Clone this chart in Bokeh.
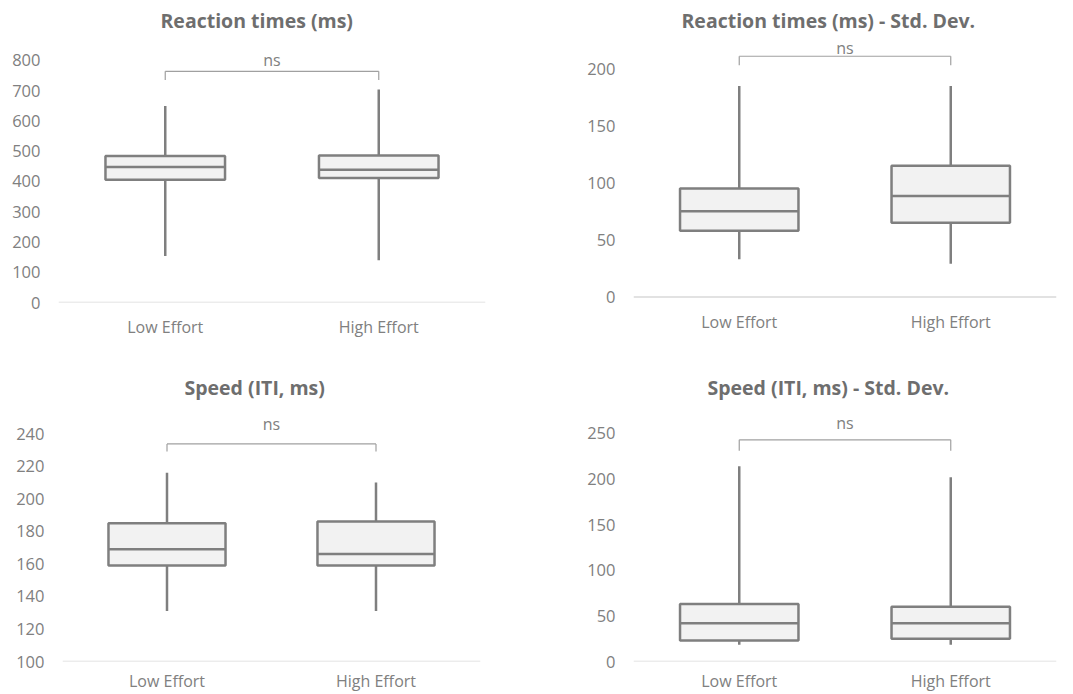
from bokeh.plotting import figure
from bokeh.models import FactorRange, Range1d, FixedTicker, Label, Span
from bokeh.layouts import column, row
from bokeh.embed import file_html
from bokeh.resources import INLINE

categories = ["Low Effort", "High Effort"]

# Reaction times (ms)
rt_min = [154, 140]
rt_q1 = [406, 411]
rt_med = [448, 439]
rt_q3 = [484, 486]
rt_max = [649, 704]

# Reaction times (ms) - Std. Dev.
rtsd_min = [33, 29]
rtsd_q1 = [58, 65]
rtsd_med = [75, 88.5]
rtsd_q3 = [95, 115]
rtsd_max = [185, 185]

# Speed (ITI, ms)
iti_min = [131, 131]
iti_q1 = [159, 159]
iti_med = [169, 166]
iti_q3 = [185, 186]
iti_max = [216, 210]

# Speed (ITI, ms) - Std. Dev.
itisd_min = [18.5, 18.5]
itisd_q1 = [23, 25]
itisd_med = [42, 42]
itisd_q3 = [63, 60]
itisd_max = [214, 202]

rt_ticks = [0, 100, 200, 300, 400, 500, 600, 700, 800]
rtsd_ticks = [0, 50, 100, 150, 200]
iti_ticks = [100, 120, 140, 160, 180, 200, 220, 240]
itisd_ticks = [0, 50, 100, 150, 200, 250]

sig_label = "ns"

BOX_LINE = "#7f7f7f"
BOX_FILL = "#f2f2f2"
TEXT = "#808080"
TITLE = "#6e6e6e"
FONT = "Open Sans"


def make_panel(title, title_offset, title_standoff, mins, q1, med, q3, maxs,
               ticks, yr, base, bracket, ns_y, width, height, mb_left,
               mb_right, mb_top, mb_bottom, xstandoff):
    p = figure(x_range=FactorRange(*categories, range_padding=0),
               y_range=Range1d(*yr),
               width=width, height=height, output_backend="svg",
               toolbar_location=None,
               min_border_left=mb_left, min_border_right=mb_right,
               min_border_top=mb_top, min_border_bottom=mb_bottom)
    p.outline_line_color = None
    p.xgrid.visible = False
    p.ygrid.visible = False
    p.background_fill_color = "white"
    p.border_fill_color = "white"

    p.title.text = title
    p.title.text_font = FONT
    p.title.text_font_style = "bold"
    p.title.text_font_size = "19.5px"
    p.title.text_color = TITLE
    p.title.align = "left"
    p.title.offset = title_offset
    p.title.standoff = title_standoff

    p.yaxis.ticker = FixedTicker(ticks=ticks)
    p.yaxis.axis_line_color = None
    p.yaxis.major_tick_line_color = None
    p.yaxis.minor_tick_line_color = None
    p.yaxis.major_label_text_font = FONT
    p.yaxis.major_label_text_font_size = "16.5px"
    p.yaxis.major_label_text_color = TEXT
    p.yaxis.major_label_standoff = 12

    # category axis (its line is drawn as a span at the baseline value)
    p.xaxis.axis_line_color = None
    p.xaxis.major_tick_line_color = None
    p.xaxis.minor_tick_line_color = None
    p.xaxis.major_label_text_font = FONT
    p.xaxis.major_label_text_font_size = "16px"
    p.xaxis.major_label_text_color = TEXT
    p.xaxis.major_label_standoff = xstandoff
    p.add_layout(Span(location=base, dimension="width",
                      line_color="#d9d9d9", line_width=1.5))

    # whiskers
    p.segment(x0=categories, y0=q3, x1=categories, y1=maxs,
              line_color=BOX_LINE, line_width=2.5)
    p.segment(x0=categories, y0=mins, x1=categories, y1=q1,
              line_color=BOX_LINE, line_width=2.5)
    # boxes
    p.vbar(x=categories, width=0.56, bottom=q1, top=q3,
           fill_color=BOX_FILL, line_color=BOX_LINE, line_width=2.5)
    # medians
    p.segment(x0=[(c, -0.28) for c in categories], y0=med,
              x1=[(c, 0.28) for c in categories], y1=med,
              line_color=BOX_LINE, line_width=2.5)

    # significance bracket
    top, end = bracket
    p.segment(x0=[categories[0], categories[0], categories[1]],
              y0=[top, end, end],
              x1=[categories[1], categories[0], categories[1]],
              y1=[top, top, top],
              line_color="#a0a0a0", line_width=1.2)
    p.add_layout(Label(x=1.0, y=ns_y, text=sig_label, text_align="center",
                       text_baseline="middle", text_font=FONT,
                       text_font_size="16px", text_color=TEXT))
    return p


p1 = make_panel("Reaction times (ms)", 102, 6, rt_min, rt_q1, rt_med, rt_q3,
                rt_max, rt_ticks, (0, 879), 0, (764, 735), 802,
                540, 340, 58, 55, 36, 38, 7)
p2 = make_panel("Reaction times (ms) - Std. Dev.", 48, 6, rtsd_min, rtsd_q1,
                rtsd_med, rtsd_q3, rtsd_max, rtsd_ticks, (-4.9, 228.3), 0,
                (211, 203), 218, 533, 340, 93, 17, 36, 38, 2)
p3 = make_panel("Speed (ITI, ms)", 122, 23, iti_min, iti_q1, iti_med, iti_q3,
                iti_max, iti_ticks, (100, 253), 100, (233.7, 229), 246,
                540, 354, 62, 60, 72, 32, 2)
p4 = make_panel("Speed (ITI, ms) - Std. Dev.", 74, 23, itisd_min, itisd_q1,
                itisd_med, itisd_q3, itisd_max, itisd_ticks, (0, 273), 0,
                (243, 231), 261, 533, 354, 93, 17, 72, 32, 2)

layout = column(row(p1, p2), row(p3, p4))

with open("out.html", "w") as f:
    f.write(file_html(layout, INLINE))
